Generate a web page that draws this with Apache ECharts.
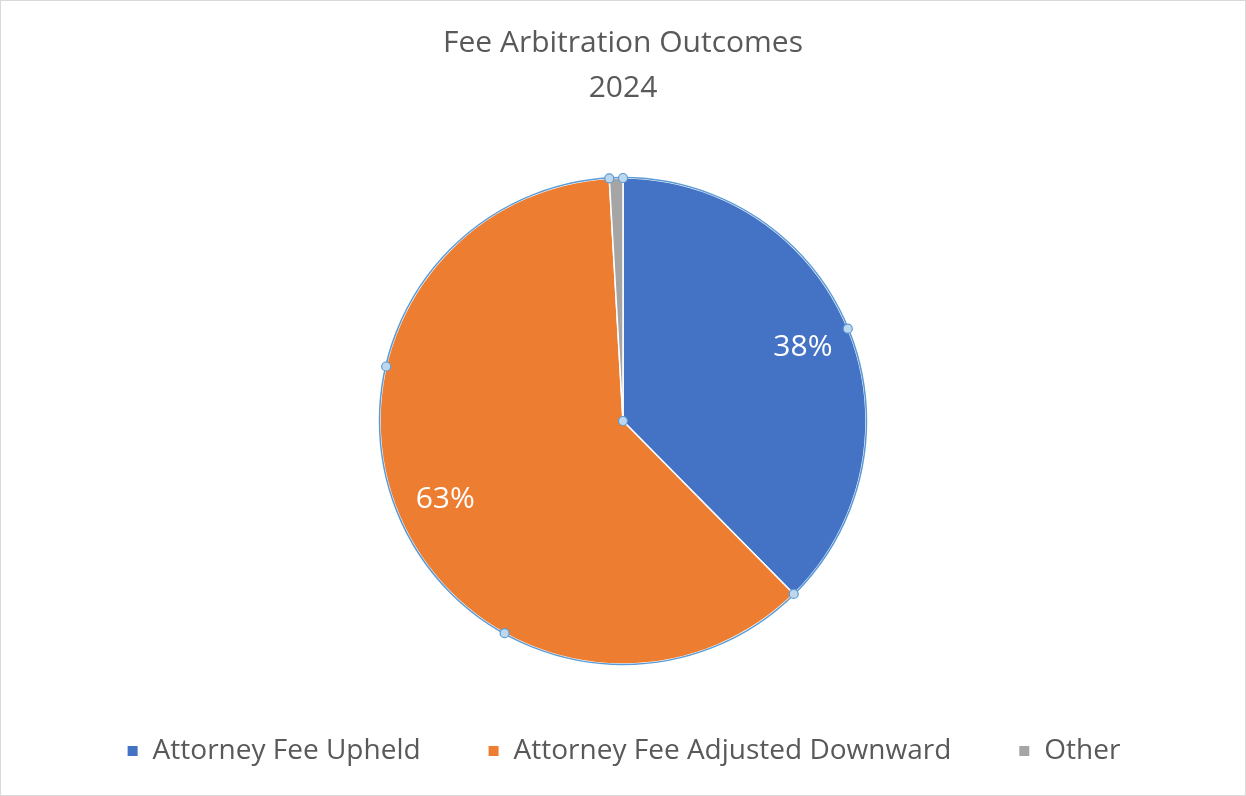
<!DOCTYPE html>
<html><head><meta charset="utf-8">
<script src="https://cdn.jsdelivr.net/npm/echarts@6/dist/echarts.min.js"></script>
<style>
html,body{margin:0;padding:0;background:#fff;}
#c{width:1246px;height:796px;box-sizing:border-box;border:1px solid #d9d9d9;}
</style></head><body>
<div id="c"></div>
<script>
const categories = ["Attorney Fee Upheld", "Attorney Fee Adjusted Downward", "Other"];
const values = [37.6, 61.5, 0.9];
const labelTexts = ["38%", "63%", ""];
const colors = ["#4472c4", "#ed7d31", "#a5a5a5"];
const titleLines = ["Fee Arbitration Outcomes", "2024"];

const CX = 622, CY = 420, R = 243;
const total = values.reduce((a, b) => a + b, 0);

// selection handles (Excel-style), computed from the data angles
const handles = [[CX, CY]];
let acc = 0;
const angs = [];
values.forEach((v, i) => {
  const a0 = acc / total * 360, a1 = (acc + v) / total * 360;
  angs.push(a0);
  if (i === 0) angs.push((a0 + a1) / 2);
  if (i === 1) { angs.push(a0 + (a1 - a0) / 3); angs.push(a0 + 2 * (a1 - a0) / 3); }
  acc += v;
});
angs.forEach(a => {
  const r = a * Math.PI / 180;
  handles.push([CX + R * Math.sin(r), CY - R * Math.cos(r)]);
});

const graphics = [{
  type: 'circle', shape: {cx: CX, cy: CY, r: R + 0.5}, silent: true, z: 10,
  style: {fill: null, stroke: '#5b9bd5', lineWidth: 1.5}
}].concat(handles.map(h => ({
  type: 'circle', shape: {cx: h[0], cy: h[1], r: 4.5}, silent: true, z: 11,
  style: {fill: '#bdd7ee', stroke: '#5b9bd5', lineWidth: 1.2}
})));

const chart = echarts.init(document.getElementById('c'), null, {renderer: 'canvas'});
chart.setOption({
  animation: false,
  title: {
    text: titleLines.join('\n'),
    left: 'center', top: 15,
    textStyle: {fontFamily: 'Open Sans', fontSize: 30, fontWeight: 'normal', color: '#595959', lineHeight: 45}
  },
  legend: {
    data: categories,
    bottom: 25, left: 'center',
    icon: 'rect', itemWidth: 12, itemHeight: 12, itemGap: 66,
    textStyle: {fontFamily: 'Open Sans', fontSize: 28, color: '#595959', padding: [0, 0, 0, 9]}
  },
  graphic: graphics,
  series: [{
    type: 'pie',
    center: [CX, CY], radius: [0, R],
    startAngle: 90, clockwise: true,
    label: {show: false},
    labelLine: {show: false},
    itemStyle: {borderColor: '#fff', borderWidth: 1.5},
    emphasis: {disabled: true},
    data: categories.map((n, i) => ({name: n, value: values[i], itemStyle: {color: colors[i]}}))
  }, {
    type: 'pie',
    center: [CX, CY], radius: [140, R],
    startAngle: 90, clockwise: true, silent: true,
    itemStyle: {color: 'rgba(0,0,0,0)', borderWidth: 0},
    label: {
      position: 'inside',
      formatter: p => labelTexts[p.dataIndex],
      color: '#fff', fontFamily: 'Open Sans', fontSize: 30, fontWeight: 'normal'
    },
    labelLine: {show: false},
    emphasis: {disabled: true},
    data: categories.map((n, i) => ({name: n, value: values[i]}))
  }]
});
</script></body></html>
